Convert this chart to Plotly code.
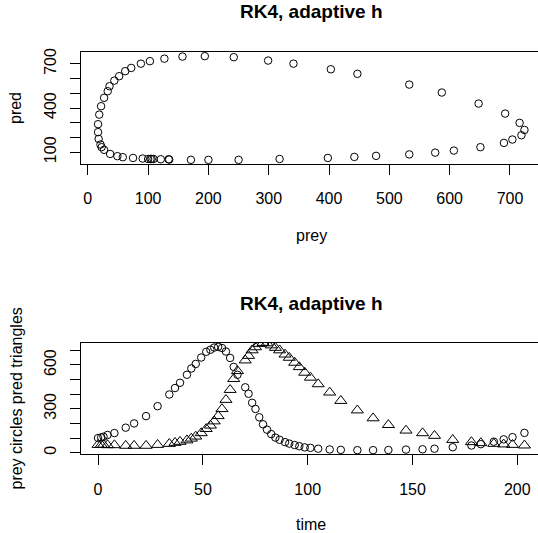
import plotly.graph_objects as go

# ---- data ----
time = [0, 1.5, 2.6, 4.5, 7.8, 13.2, 17.2, 22.9, 28.4, 34.0,
        36.7, 39.1, 42.4, 44.5, 46.6, 49.2, 51.6, 53.6, 55.4, 57.3,
        59.1, 61.0, 63.0, 64.7, 66.5, 70.2, 71.8, 73.5, 75.1, 76.9,
        78.7, 80.6, 82.6, 84.6, 86.6, 89.2, 91.2, 93.8, 96.0, 98.6,
        101.3, 105.0, 110.5, 115.8, 123.7, 131.2, 138.5, 146.9, 154.8, 160.5,
        169.2, 178.1, 182.6, 188.8, 193.5, 197.7, 203.4]
prey = [100, 104, 109, 121, 134, 171, 200, 250, 318, 398,
        442, 478, 533, 576, 607, 651, 690, 704, 719, 724,
        716, 692, 648, 587, 533, 447, 403, 341, 299, 242,
        194, 157, 127, 103, 88, 72, 62, 52, 44, 36,
        33, 27, 22, 19, 17, 17, 18, 21, 23, 27,
        37, 49, 58, 75, 91, 106, 135]
pred = [54, 54, 54, 52, 52, 48, 48, 48, 54, 61,
        68, 75, 85, 97, 111, 134, 163, 186, 215, 251,
        299, 362, 430, 505, 559, 632, 663, 701, 722, 745,
        752, 749, 735, 718, 701, 672, 650, 616, 586, 548,
        514, 469, 412, 355, 290, 236, 190, 152, 134, 116,
        88, 73, 66, 61, 57, 54, 50]

title_text = "RK4, adaptive h"
top_xticks = [0, 100, 200, 300, 400, 500, 600, 700]
top_yticks = [100, 200, 300, 400, 500, 600, 700]
top_ylabels = ["100", "", "", "400", "", "", "700"]
bot_xticks = [0, 50, 100, 150, 200]
bot_yticks = [0, 100, 200, 300, 400, 500, 600, 700]
bot_ylabels = ["0", "", "", "300", "", "", "600", ""]

# ---- layout geometry (pixels) ----
W, H = 538, 533
BOX_L, BOX_R_FULL, VIS_R = 81, 541.5, 538
TOP_T, TOP_B = 52, 164
BOT_T, BOT_B = 342.7, 454.3
FONT = "Liberation Sans, Arial, Helvetica, sans-serif"


def r_range(v):
    lo, hi = min(v), max(v)
    d = hi - lo
    return lo - 0.04 * d, hi + 0.04 * d


def vis_range(v):
    lo, hi = r_range(v)
    return [lo, lo + (hi - lo) * (VIS_R - BOX_L) / (BOX_R_FULL - BOX_L)]


def py(p):
    return 1 - p / H


def px(p):
    return p / W


fig = go.Figure()
fig.add_trace(go.Scatter(x=prey, y=pred, mode="markers", xaxis="x", yaxis="y",
                         marker=dict(symbol="circle-open", size=7.5, color="black",
                                     line=dict(width=1, color="black")),
                         showlegend=False, hoverinfo="skip"))
fig.add_trace(go.Scatter(x=time, y=prey, mode="markers", xaxis="x2", yaxis="y2",
                         marker=dict(symbol="circle-open", size=7.5, color="black",
                                     line=dict(width=1, color="black")),
                         showlegend=False, hoverinfo="skip"))
fig.add_trace(go.Scatter(x=time, y=pred, mode="markers", xaxis="x2", yaxis="y2",
                         marker=dict(symbol="triangle-up-open", size=10.5, color="black",
                                     line=dict(width=1, color="black")),
                         showlegend=False, hoverinfo="skip"))

axis_common = dict(showgrid=False, zeroline=False, showline=True, linecolor="black",
                   linewidth=1, ticks="outside", ticklen=10, tickwidth=1,
                   tickcolor="black", automargin=False,
                   tickfont=dict(family=FONT, size=16, color="black"))

fig.update_layout(
    width=W, height=H, margin=dict(l=0, r=0, t=0, b=0),
    paper_bgcolor="white", plot_bgcolor="white",
    xaxis=dict(axis_common, domain=[px(BOX_L), 1], anchor="y", mirror=True,
               range=vis_range(prey), tickmode="array", tickvals=top_xticks,
               ticktext=[str(t) for t in top_xticks], ticklabelstandoff=10),
    yaxis=dict(axis_common, domain=[py(TOP_B), py(TOP_T)], anchor="x",
               range=r_range(pred), tickmode="array", tickvals=top_yticks,
               ticktext=top_ylabels, tickangle=-90, ticklabelstandoff=8),
    xaxis2=dict(axis_common, domain=[px(BOX_L), 1], anchor="y2", mirror=True,
                range=vis_range(time), tickmode="array", tickvals=bot_xticks,
                ticktext=[str(t) for t in bot_xticks], ticklabelstandoff=10),
    yaxis2=dict(axis_common, domain=[py(BOT_B), py(BOT_T)], anchor="x2",
                range=r_range(prey), tickmode="array", tickvals=bot_yticks,
                ticktext=bot_ylabels, tickangle=-90, ticklabelstandoff=8),
)

cx = px((BOX_L + BOX_R_FULL) / 2)
ann = []
for yc in (11.5, 303.5):
    ann.append(dict(text="<b>%s</b>" % title_text, x=cx, y=py(yc), xref="paper", yref="paper",
                    xanchor="center", yanchor="middle", showarrow=False,
                    font=dict(family=FONT, size=19, color="black")))
ann.append(dict(text="prey", x=cx, y=py(235), xref="paper", yref="paper",
                xanchor="center", yanchor="middle", showarrow=False,
                font=dict(family=FONT, size=16, color="black")))
ann.append(dict(text="time", x=cx, y=py(524), xref="paper", yref="paper",
                xanchor="center", yanchor="middle", showarrow=False,
                font=dict(family=FONT, size=16, color="black")))
ann.append(dict(text="pred", x=px(16), y=py((TOP_T + TOP_B) / 2), xref="paper", yref="paper",
                xanchor="center", yanchor="middle", showarrow=False, textangle=-90,
                font=dict(family=FONT, size=16, color="black")))
ann.append(dict(text="prey circles pred triangles", x=px(16), y=py((BOT_T + BOT_B) / 2),
                xref="paper", yref="paper", xanchor="center", yanchor="middle",
                showarrow=False, textangle=-90,
                font=dict(family=FONT, size=16, color="black")))
fig.update_layout(annotations=ann)

fig.write_html("out.html", config={"displayModeBar": False, "staticPlot": True},
               post_script="document.body.style.margin='0px';document.body.style.overflow='hidden';")
